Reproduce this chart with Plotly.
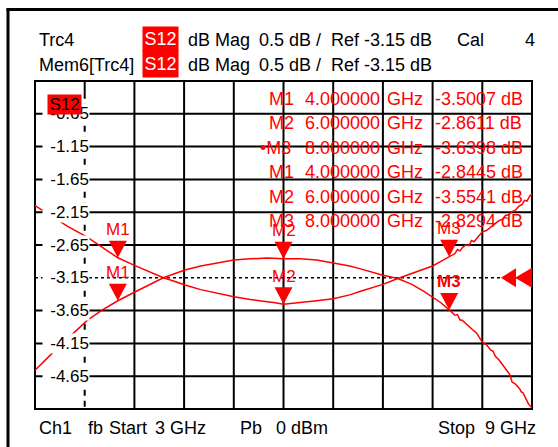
import plotly.graph_objects as go

# ---------------- data ----------------
freq_start, freq_stop = 3.0, 9.0
ref_level, scale_div = -3.15, 0.5

live_freq = [3.00, 3.10, 3.20, 3.35, 3.50, 3.63, 3.80, 4.00, 4.20, 4.40, 4.55, 4.70, 4.81, 5.00, 5.20,
             5.40, 5.60, 5.80, 6.00, 6.20, 6.40, 6.60, 6.80, 6.92, 7.05, 7.20, 7.38, 7.55, 7.70,
             7.80, 7.90, 8.00, 8.04, 8.07, 8.10, 8.13, 8.16, 8.20, 8.25, 8.30, 8.33, 8.36, 8.40,
             8.45, 8.50, 8.53, 8.56, 8.60, 8.65, 8.70, 8.73, 8.76, 8.80, 8.85, 8.87, 8.89,
             8.93, 8.96, 9.00]
live_db = [-4.56, -4.43, -4.31, -4.13, -3.96, -3.80, -3.65, -3.50, -3.37, -3.24, -3.15, -3.08, -3.03,
           -2.97, -2.92, -2.88, -2.86, -2.85, -2.861, -2.86, -2.88, -2.92, -2.97, -3.01, -3.06,
           -3.11, -3.16, -3.25, -3.36, -3.44, -3.53, -3.64, -3.69, -3.72, -3.71, -3.79, -3.80,
           -3.85, -3.90, -3.96, -3.99, -4.06, -4.13, -4.17, -4.25, -4.27, -4.35, -4.40, -4.49,
           -4.56, -4.62, -4.74, -4.77, -4.84, -4.89, -4.90, -5.01, -5.08, -5.13]

mem_freq = [3.00, 3.20, 3.40, 3.63, 3.80, 4.00, 4.20, 4.40, 4.55, 4.70, 4.81, 5.00, 5.20, 5.40,
            5.60, 5.75, 5.90, 6.00, 6.20, 6.40, 6.60, 6.80, 6.92, 7.05, 7.20, 7.38, 7.55, 7.70,
            7.80, 7.90, 8.00, 8.04, 8.07, 8.10, 8.13, 8.16, 8.20, 8.24, 8.27, 8.30, 8.35, 8.40,
            8.45, 8.50, 8.55, 8.60, 8.64, 8.68, 8.72, 8.76, 8.80, 8.84, 8.88, 8.91, 8.94, 8.97,
            9.00]
mem_db = [-2.05, -2.21, -2.37, -2.53, -2.67, -2.845, -2.96, -3.07, -3.15, -3.21, -3.26, -3.33, -3.39,
          -3.44, -3.48, -3.50, -3.53, -3.554, -3.53, -3.50, -3.47, -3.41, -3.36, -3.31, -3.25,
          -3.16, -3.08, -3.02, -2.97, -2.90, -2.83, -2.80, -2.78, -2.72, -2.74, -2.69, -2.65,
          -2.66, -2.58, -2.60, -2.52, -2.45, -2.43, -2.38, -2.34, -2.28, -2.26, -2.20, -2.19,
          -2.14, -2.12, -2.06, -2.03, -1.97, -1.98, -1.91, -1.87]

marker_names = ["M1", "M2", "M3"]
marker_freq = [4.0, 6.0, 8.0]
live_marker_db = [-3.5007, -2.8611, -3.6398]
mem_marker_db = [-2.8445, -3.5541, -2.8294]

ytick_labels = ["-0.65", "-1.15", "-1.65", "-2.15", "-2.65", "-3.15", "-3.65", "-4.15", "-4.65"]

header_row1 = ["Trc4", "dB Mag", "0.5 dB /", "Ref -3.15 dB", "Cal", "4"]
header_row2 = ["Mem6[Trc4]", "dB Mag", "0.5 dB /", "Ref -3.15 dB"]
footer = ["Ch1", "fb", "Start", "3 GHz", "Pb", "0 dBm", "Stop", "9 GHz"]

# ---------------- layout helpers ----------------
W, H = 558, 447
FONT = "Liberation Sans, Arial, sans-serif"
RED = "#ff0000"


def px(x):
    return x / W


def py(y):
    return 1 - y / H


n_div = 10
ytop = ref_level + 6 * scale_div
ybot = ref_level - 4 * scale_div
x_grid = [freq_start + i * (freq_stop - freq_start) / n_div for i in range(1, n_div)]
y_grid = [ybot + i * scale_div for i in range(1, n_div)]

fig = go.Figure()

fig.add_trace(go.Scatter(x=mem_freq, y=mem_db, mode="lines",
                         line=dict(color=RED, width=1.5), hoverinfo="skip"))
fig.add_trace(go.Scatter(x=live_freq, y=live_db, mode="lines",
                         line=dict(color=RED, width=1.5), hoverinfo="skip"))

shapes = []
# outer frame (left and top thick lines)
shapes.append(dict(type="line", xref="paper", yref="paper", x0=px(8), x1=px(8), y0=0, y1=py(8.5),
                   line=dict(color="black", width=3)))
shapes.append(dict(type="line", xref="paper", yref="paper", x0=px(6.5), x1=1, y0=py(9.5), y1=py(9.5),
                   line=dict(color="black", width=3)))

# vertical grid
for i, xg in enumerate(x_grid):
    if i == 0:
        shapes.append(dict(type="line", xref="x", yref="y", x0=xg, x1=xg, y0=ytop, y1=ytop - 0.18,
                           line=dict(color="black", width=2), layer="below"))
        shapes.append(dict(type="line", xref="x", yref="y", x0=xg, x1=xg, y0=ytop - 0.18, y1=ybot,
                           line=dict(color="black", width=2, dash="6px,5px"), layer="below"))
    else:
        shapes.append(dict(type="line", xref="x", yref="y domain", x0=xg, x1=xg, y0=0, y1=1,
                           line=dict(color="black", width=2), layer="below"))
# horizontal grid
for yg in y_grid:
    if abs(yg - ref_level) < 1e-9:
        shapes.append(dict(type="line", xref="x domain", yref="y", x0=0, x1=1, y0=yg, y1=yg,
                           line=dict(color="black", width=1.5, dash="dot"), layer="below"))
    else:
        shapes.append(dict(type="line", xref="x domain", yref="y", x0=0, x1=1, y0=yg, y1=yg,
                           line=dict(color="black", width=2), layer="below"))
# plot border
shapes.append(dict(type="rect", xref="x domain", yref="y domain", x0=0, x1=1, y0=0, y1=1,
                   line=dict(color="black", width=2), layer="below"))

# marker triangles
for f, v in list(zip(marker_freq, live_marker_db)) + list(zip(marker_freq, mem_marker_db)):
    shapes.append(dict(type="path", xref="x", yref="y", xsizemode="pixel", ysizemode="pixel",
                       xanchor=f, yanchor=v, path="M-9,17 L9,17 L0,0 Z",
                       fillcolor=RED, line=dict(color=RED, width=0), layer="above"))
# reference level double triangle
shapes.append(dict(type="path", xref="x", yref="y", xsizemode="pixel", ysizemode="pixel",
                   xanchor=freq_stop, yanchor=ref_level, path="M-31,0 L-16,9.5 L-16,-9.5 Z",
                   fillcolor=RED, line=dict(color=RED, width=0), layer="above"))
shapes.append(dict(type="path", xref="x", yref="y", xsizemode="pixel", ysizemode="pixel",
                   xanchor=freq_stop, yanchor=ref_level, path="M-17,0 L0,10 L0,-10 Z",
                   fillcolor=RED, line=dict(color=RED, width=0), layer="above"))

ann = []
# y tick labels
for lab in ytick_labels:
    ann.append(dict(xref="paper", yref="y", x=px(90), y=float(lab), text=lab, showarrow=False,
                    xanchor="right", yanchor="middle", align="right", width=46, borderpad=0,
                    bgcolor="white", font=dict(family=FONT, size=17, color="black")))
# S12 trace label box
ann.append(dict(xref="paper", yref="paper", x=px(47), y=py(94), text="S12", showarrow=False,
                xanchor="left", yanchor="top", width=33, height=19, borderpad=0, bgcolor=RED,
                font=dict(family=FONT, size=17, color="black")))

# header
hx1 = [36.5, 186, 257, 329, 455, 523]
for t, x in zip(header_row1, hx1):
    ann.append(dict(xref="paper", yref="paper", x=px(x), y=py(40), text=t, showarrow=False,
                    xanchor="left", yanchor="middle", font=dict(family=FONT, size=18, color="black")))
hx2 = [36.5, 186, 257, 329]
for t, x in zip(header_row2, hx2):
    ann.append(dict(xref="paper", yref="paper", x=px(x), y=py(65), text=t, showarrow=False,
                    xanchor="left", yanchor="middle", font=dict(family=FONT, size=18, color="black")))
for (yt, hgt) in [(26, 24), (50, 26)]:
    ann.append(dict(xref="paper", yref="paper", x=px(142), y=py(yt), text="S12", showarrow=False,
                    xanchor="left", yanchor="top", width=35, height=hgt, borderpad=0, bgcolor=RED,
                    font=dict(family=FONT, size=18, color="white")))

# footer
fx = [36.5, 85.5, 107, 153, 238, 274, 436, 483]
for t, x in zip(footer, fx):
    ann.append(dict(xref="paper", yref="paper", x=px(x), y=py(428), text=t, showarrow=False,
                    xanchor="left", yanchor="middle", font=dict(family=FONT, size=18, color="black")))

# marker table
rows = list(zip(marker_names, marker_freq, live_marker_db)) + list(zip(marker_names, marker_freq, mem_marker_db))
for i, (nm, f, v) in enumerate(rows):
    yr = 98.5 + i * 24.6
    mtxt = ("\u2022" + nm) if i == 2 else nm
    mx = 258 if i == 2 else 267
    cells = [(mtxt, mx), (f"{f:.6f}", 303), ("GHz", 385), (f"{v:.4f} dB", 433)]
    for t, x in cells:
        ann.append(dict(xref="paper", yref="paper", x=px(x), y=py(yr), text=t, showarrow=False,
                        xanchor="left", yanchor="middle", font=dict(family=FONT, size=18, color=RED)))

# marker labels above triangles
for j, (f, v) in enumerate(zip(marker_freq, live_marker_db)):
    t = f"<b>{marker_names[j]}</b>" if j == 2 else marker_names[j]
    ann.append(dict(xref="x", yref="y", x=f, y=v, yshift=28, text=t, showarrow=False,
                    xanchor="center", yanchor="middle", font=dict(family=FONT, size=17, color=RED)))
for j, (f, v) in enumerate(zip(marker_freq, mem_marker_db)):
    ann.append(dict(xref="x", yref="y", x=f, y=v, yshift=28, text=marker_names[j], showarrow=False,
                    xanchor="center", yanchor="middle", font=dict(family=FONT, size=17, color=RED)))

fig.update_layout(
    width=W, height=H, margin=dict(l=0, r=0, t=0, b=0),
    paper_bgcolor="white", plot_bgcolor="white", showlegend=False,
    xaxis=dict(domain=[px(35), px(532)], range=[freq_start, freq_stop], showgrid=False,
               zeroline=False, showticklabels=False, showline=False, ticks=""),
    yaxis=dict(domain=[py(409), py(81)], range=[ybot, ytop], showgrid=False,
               zeroline=False, showticklabels=False, showline=False, ticks=""),
    shapes=shapes, annotations=ann,
)

fig.write_html("out.html", config={"displayModeBar": False},
               post_script="document.body.style.margin='0';document.body.style.overflow='hidden';")
